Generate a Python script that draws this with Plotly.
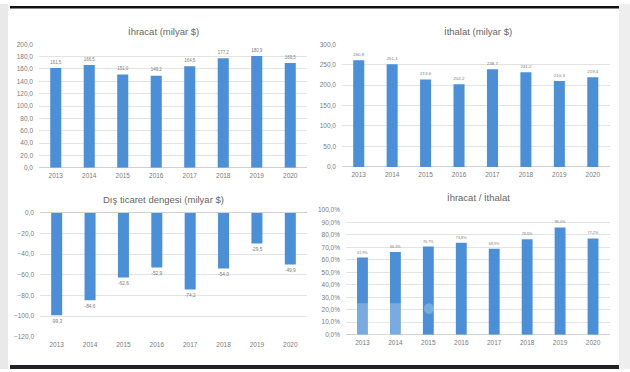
import plotly.graph_objects as go

years = ["2013", "2014", "2015", "2016", "2017", "2018", "2019", "2020"]
ihracat = [161.5, 166.5, 151.0, 149.2, 164.5, 177.2, 180.9, 169.5]
ithalat = [260.8, 251.1, 213.6, 202.2, 238.7, 231.2, 210.3, 219.4]
denge = [-99.3, -84.6, -62.6, -52.9, -74.2, -54.0, -29.5, -49.9]
oran = [61.9, 66.3, 70.7, 73.8, 68.9, 76.6, 86.0, 77.2]

titles = ["İhracat (milyar $)", "İthalat (milyar $)",
          "Dış ticaret dengesi (milyar $)", "İhracat / İthalat"]

W, H = 630, 372
BLUE = "#4A8FD8"
FONT = "Liberation Sans"
TXT = "#7a7a7a"

def px(x):
    return x / W

def py(y):
    return (H - y) / H

fig = go.Figure()

series = [
    (ihracat, "x", "y", "%{y:.1f}"),
    (ithalat, "x2", "y2", "%{y:.1f}"),
    (denge, "x3", "y3", "%{y:.1f}"),
    (oran, "x4", "y4", "%{y:.1f}%"),
]
for vals, xa, ya, tt in series:
    fig.add_trace(go.Bar(
        x=years, y=vals, xaxis=xa, yaxis=ya,
        marker=dict(color=BLUE, line=dict(width=0)),
        texttemplate=tt, textposition="outside", cliponaxis=False,
        textfont=dict(family=FONT, size=7.5, color=TXT),
        showlegend=False, hoverinfo="skip",
    ))

xdoms = [(39, 307), (342, 609.5), (40, 307), (346, 609.5)]
ydoms = [(41, 167), (41, 166), (213, 339), (210, 337)]
yranges = [(0, 200, 20, ""), (0, 300, 50, ""), (-120, 0, 20, ""), (0, 100, 10, "%")]

layout = dict(
    width=W, height=H,
    margin=dict(l=0, r=0, t=0, b=0),
    paper_bgcolor="white", plot_bgcolor="white",
    separators=",.",
    bargap=0.67,
    font=dict(family=FONT, color=TXT, size=6),
)

for i in range(4):
    xn = "xaxis" if i == 0 else f"xaxis{i+1}"
    yn = "yaxis" if i == 0 else f"yaxis{i+1}"
    x0, x1 = xdoms[i]
    ytop, ybot = ydoms[i]
    lo, hi, dt, suf = yranges[i]
    layout[xn] = dict(
        domain=[px(x0), px(x1)], anchor=("y" if i == 0 else f"y{i+1}"),
        showgrid=False, showline=False, ticks="",
        tickfont=dict(family=FONT, size=6.5, color=TXT),
        ticklabelstandoff=3, fixedrange=True,
    )
    layout[yn] = dict(
        domain=[py(ybot), py(ytop)], anchor=("x" if i == 0 else f"x{i+1}"),
        range=[lo, hi], dtick=dt, tick0=0, tickformat=".1f", ticksuffix=suf,
        showgrid=True, gridcolor="#e3e3e3", gridwidth=1,
        zeroline=True, zerolinecolor="#d0d0d0", zerolinewidth=1,
        showline=False, ticks="",
        tickfont=dict(family=FONT, size=6.5, color=TXT),
        ticklabelstandoff=5, fixedrange=True,
    )

fig.update_layout(**layout)

title_pos = [(163, 28), (478, 28), (163, 199), (478, 197)]
for t, (tx, ty) in zip(titles, title_pos):
    fig.add_annotation(
        text=t, x=px(tx), y=py(ty), xref="paper", yref="paper",
        xanchor="center", yanchor="middle", showarrow=False,
        font=dict(family=FONT, size=9.5, color="#666666"),
    )

shapes = [
    dict(type="rect", xref="paper", yref="paper", x0=0, x1=px(8), y0=0, y1=1,
         fillcolor="#e9e9e9", line=dict(width=0), layer="below"),
    dict(type="rect", xref="paper", yref="paper", x0=px(619), x1=1, y0=0, y1=1,
         fillcolor="#eeeeee", line=dict(width=0), layer="below"),
    dict(type="rect", xref="paper", yref="paper", x0=px(10), x1=px(619),
         y0=py(4.5), y1=py(2), fillcolor="#111111", line=dict(width=0)),
    dict(type="rect", xref="paper", yref="paper", x0=px(10), x1=px(619),
         y0=0, y1=py(368), fillcolor="#1f2328", line=dict(width=0)),
    dict(type="rect", xref="paper", yref="paper", x0=px(356), x1=px(402),
         y0=py(337), y1=py(305), fillcolor="rgba(255,255,255,0.25)",
         line=dict(width=0), layer="above"),
    dict(type="circle", xref="paper", yref="paper", x0=px(424), x1=px(434),
         y0=py(316), y1=py(305), fillcolor="rgba(255,255,255,0.25)",
         line=dict(width=0), layer="above"),
]
fig.update_layout(shapes=shapes)

post = (
    "document.documentElement.style.margin='0';"
    "document.body.style.margin='0';document.body.style.padding='0';"
    "document.body.style.overflow='hidden';"
    "var d=document.getElementById('{plot_id}');"
    "d.style.position='fixed';d.style.top='0px';d.style.left='0px';"
    "window.scrollTo(0,0);"
)
fig.write_html("out.html", config={"displayModeBar": False}, post_script=post)
